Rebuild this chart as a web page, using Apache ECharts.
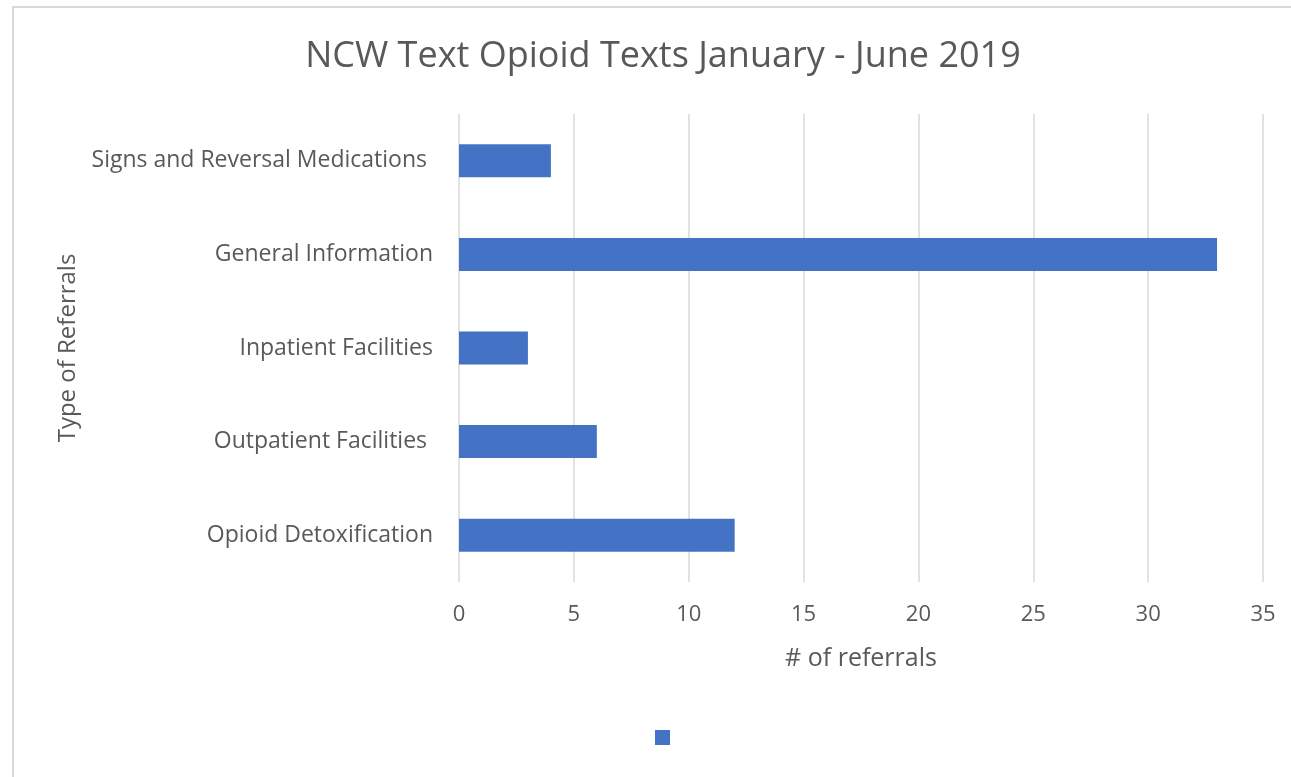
<!DOCTYPE html>
<html>
<head>
<meta charset="utf-8">
<script src="https://cdn.jsdelivr.net/npm/echarts@6/dist/echarts.min.js"></script>
<style>
  html, body { margin: 0; padding: 0; background: #fff; }
  #frame { position: absolute; left: 12px; top: 6px; width: 1279px; height: 771px;
           border-top: 2px solid #d9d9d9; border-left: 2px solid #d9d9d9; box-sizing: border-box; }
  #chart { position: absolute; left: 0; top: 0; width: 1291px; height: 777px; }
</style>
</head>
<body>
<div id="frame"></div>
<div id="chart"></div>
<script>
const categories = ['Opioid Detoxification', 'Outpatient Facilities ', 'Inpatient Facilities', 'General Information', 'Signs and Reversal Medications '];
const referrals = [12, 6, 3, 33, 4];
const xTicks = { min: 0, max: 35, interval: 5 };

const chart = echarts.init(document.getElementById('chart'));
const font = '"Open Sans", "Noto Sans", sans-serif';

chart.setOption({
  animation: false,
  textStyle: { fontFamily: font },
  title: {
    text: 'NCW Text Opioid Texts January - June 2019',
    left: 658, top: 34, textAlign: 'center',
    textStyle: { fontFamily: font, fontSize: 36, fontWeight: 'normal', color: '#595959' }
  },
  legend: {
    data: [{ name: ' ', icon: 'rect' }],
    left: 650, top: 725,
    itemWidth: 15, itemHeight: 15, itemGap: 0,
    textStyle: { fontSize: 1, color: '#fff' },
    selectedMode: false
  },
  grid: { left: 459, right: 28, top: 114, bottom: 195, containLabel: false },
  xAxis: {
    type: 'value', min: xTicks.min, max: xTicks.max, interval: xTicks.interval,
    name: '# of referrals', nameLocation: 'middle', nameGap: 64,
    nameTextStyle: { fontFamily: font, fontSize: 25, color: '#595959' },
    axisLine: { show: false }, axisTick: { show: false },
    axisLabel: { fontFamily: font, fontSize: 22, color: '#595959', margin: 22 },
    splitLine: { lineStyle: { color: '#d9d9d9', width: 1.5 } }
  },
  yAxis: {
    type: 'category', data: categories,
    name: 'Type of Referrals', nameLocation: 'middle', nameGap: 377, nameRotate: 90,
    nameTextStyle: { fontFamily: font, fontSize: 24, color: '#595959' },
    axisLine: { show: false }, axisTick: { show: false },
    axisLabel: { fontFamily: font, fontSize: 23, color: '#595959', margin: 26 }
  },
  series: [{
    name: ' ', type: 'bar', data: referrals, barWidth: 33,
    itemStyle: { color: '#4472C4' }
  }]
});
</script>
</body>
</html>
